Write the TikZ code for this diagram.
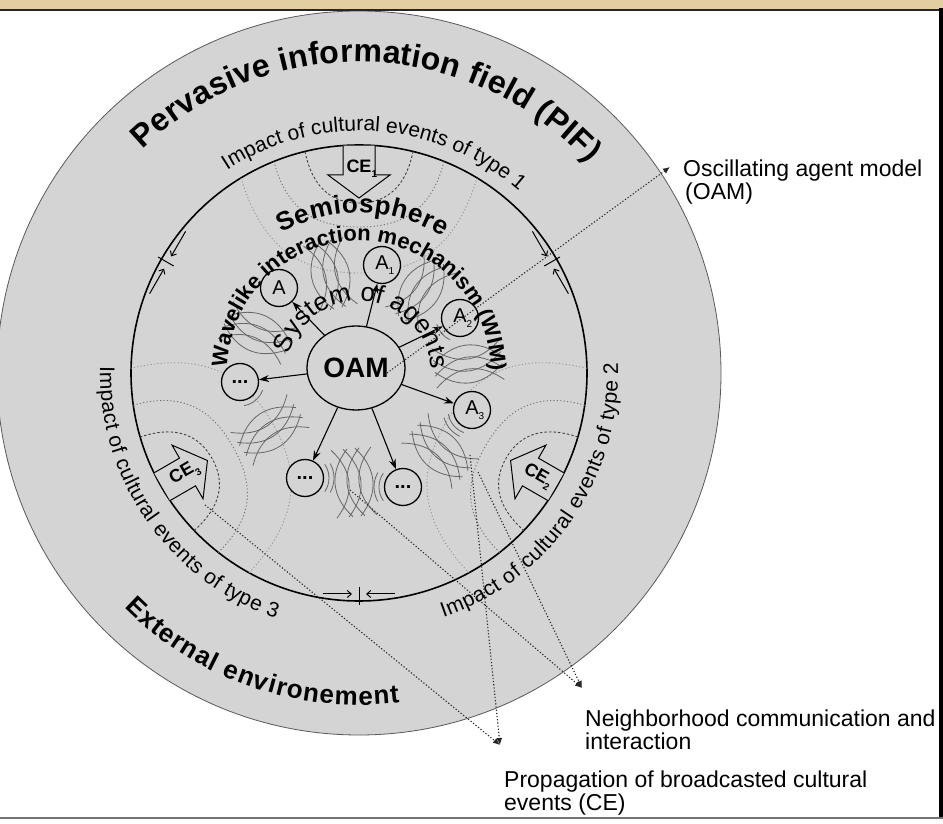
\documentclass[tikz,border=0pt]{standalone}
\usepackage{fontspec}
\setmainfont{Liberation Sans}
\usetikzlibrary{arrows.meta,calc,decorations.text,shapes.geometric}

\definecolor{fieldgray}{RGB}{212,212,212}
\definecolor{stripbeige}{RGB}{226,206,160}

% small index under the agent / event letters
\newcommand\lowidx[1]{\rlap{\raisebox{-5pt}{\fontsize{10}{10}\selectfont #1}}}
% fonts for the curved titles
\newcommand\pifieldfont{\bfseries\fontsize{32}{32}\selectfont}
\newcommand\envirofont{\bfseries\fontsize{26}{26}\selectfont}
\newcommand\semiofont{\bfseries\fontsize{26}{26}\selectfont}
\newcommand\wimfont{\bfseries\fontsize{22}{22}\selectfont}
\newcommand\systemfont{\fontsize{26}{26}\selectfont}
\newcommand\impactfont{\fontsize{21}{21}\selectfont}

% crossing wave lines between two neighbouring agents
\newcommand\wavegroup[3]{%
  \begin{scope}[shift={(#1,#2)}, rotate=#3]
    \foreach \k in {-14,-2,10} {
      \draw[wave] (\k-6,-34) .. controls (\k+14,-12) and (\k+14,12) .. (\k-6,34);
      \draw[wave] (\k+10,-34) .. controls (\k-10,-12) and (\k-10,12) .. (\k+10,34);
    }
  \end{scope}}

% wave fronts spreading from a cultural event
\newcommand\cefield[1]{%
  \begin{scope}[shift={(C)}, rotate=#1-90]
    \draw[frontline, draw=black!40] (-118,195) .. controls (-95,118) and (-50,100) .. (0,100) .. controls (50,100) and (95,118) .. (118,195);
    \draw[frontline] (-85,211.6) .. controls (-72,160) and (-40,146) .. (0,146) .. controls (40,146) and (72,160) .. (85,211.6);
    \draw[capline] (-54,221.5) .. controls (-46,182) and (-24,170) .. (0,170) .. controls (24,170) and (46,182) .. (54,221.5);
  \end{scope}}

% broadcast arrow of a cultural event
\newcommand\cearrow[4]{%
  \begin{scope}[shift={(C)}, rotate=#1-90]
    \draw[cebody] (-16,227.4) -- (-16,198) -- (-31,198) -- (0,175) -- (31,198) -- (16,198) -- (16,227.4);
  \end{scope}
  \node[celabel, rotate=#4] (#2) at ($(C)+(#1:204)$) {CE\lowidx{#3}};}

% separation mark on the semiosphere border
\newcommand\boundarytick[1]{%
  \begin{scope}[shift={(C)}, rotate=#1-90]
    \draw[line width=1pt] (0,214) -- (0,232);
    \draw[tickarrow] (-36,221) -- (-7,221);
    \draw[tickarrow] (36,221) -- (7,221);
  \end{scope}}

\begin{document}
\begin{tikzpicture}[x=1pt, y=1pt,
    field/.style={fill=fieldgray, draw=black!65, line width=0.8pt},
    agent/.style={circle, draw, line width=1.3pt, fill=fieldgray, minimum size=37pt, inner sep=0pt, font=\fontsize{20}{20}\selectfont},
    oamnode/.style={ellipse, draw, line width=1.3pt, fill=fieldgray, minimum width=98pt, minimum height=84pt, inner sep=0pt, font=\bfseries\fontsize{28}{28}\selectfont},
    spoke/.style={-{Stealth[length=10pt,width=7pt]}, line width=1.1pt},
    wave/.style={draw=black!60, line width=0.8pt},
    cebody/.style={draw, line width=1pt, fill=fieldgray, line join=miter},
    celabel/.style={inner sep=0pt, font=\bfseries\fontsize{18}{18}\selectfont},
    capline/.style={draw=black!75, dash pattern=on 2.5pt off 2pt, line width=0.9pt},
    frontline/.style={draw=black!55, dash pattern=on 1.2pt off 2.2pt, line width=0.9pt},
    pointer/.style={draw=black!85, dash pattern=on 1.2pt off 2pt, line width=1.1pt, -{Latex[length=7pt,width=6pt]}},
    note/.style={anchor=north west, inner sep=0pt, align=left, font=\fontsize{23}{23}\selectfont},
    tickarrow/.style={-{Straight Barb[length=4pt,width=7pt]}, line width=1pt},
    arctext/.style={decorate, decoration={text along path, text align={fit to path}, text={#1}}}
]
\useasboundingbox (0,0) rectangle (943,823);
\fill[white] (0,0) rectangle (943,823);
\fill[stripbeige] (0,814) rectangle (943,823);
\coordinate (C) at (359,450);

% information field and semiosphere
\draw[field] (C) circle[radius=362];
\draw[line width=1.6pt, fill=fieldgray] (C) circle[radius=228];

\cefield{90}
\cefield{-30}
\cefield{210}

% interaction waves
\wavegroup{257}{490}{67.5}
\wavegroup{330.5}{548}{12.6}
\wavegroup{421}{533}{-34}
\wavegroup{468}{459}{97.4}
\wavegroup{440}{372}{48}
\wavegroup{354}{340.5}{5}
\wavegroup{270}{393}{-56}

\cearrow{90}{ce1}{1}{0}
\cearrow{-30}{ce2}{2}{-30}
\cearrow{210}{ce3}{3}{30}

\foreach \t in {150,30,270} {\boundarytick{\t}}

% oscillating agent model and its agents
\node[oamnode] (oam) at (356,455) {OAM};
\node[agent] (a0) at (279,535) {A};
\node[agent] (a1) at (382,558) {A\lowidx{1}};
\node[agent] (a2) at (460,505) {A\lowidx{2}};
\node[agent] (a3) at (472,413) {A\lowidx{3}};
\node[agent] (d1) at (240,441) {\textbf{...}};
\node[agent] (d2) at (305,345) {\textbf{...}};
\node[agent] (d3) at (403,336) {\textbf{...}};

\foreach \n in {a0,a1,a2,a3,d1,d2,d3}
  \draw[spoke] (oam) -- (\n);

% emission arcs
\draw[wave] ($(a3)+(190:24)$) arc[start angle=190, end angle=250, radius=24];
\draw[wave] ($(a3)+(195:29)$) arc[start angle=195, end angle=245, radius=29];
\draw[wave] ($(d2)+(-35:24)$) arc[start angle=-35, end angle=35, radius=24];
\draw[wave] ($(d2)+(-30:29)$) arc[start angle=-30, end angle=30, radius=29];
\draw[wave] ($(d3)+(145:24)$) arc[start angle=145, end angle=215, radius=24];
\draw[wave] ($(d3)+(150:29)$) arc[start angle=150, end angle=210, radius=29];
\draw[wave] ($(d1)+(-80:24)$) arc[start angle=-80, end angle=-20, radius=24];
\draw[wave] ($(a2)+(195:24)$) arc[start angle=195, end angle=245, radius=24];

% curved titles
\path[arctext={|\pifieldfont|Pervasive information field (PIF) }] ($(C)+(134:311)$) arc[start angle=134, end angle=42.5, radius=311];
\path[arctext={|\envirofont|External environement }] ($(C)+(225:332)$) arc[start angle=225, end angle=277, radius=332];
\path[arctext={|\impactfont|Impact of cultural events of type 1 }] ($(C)+(123:242)$) arc[start angle=123, end angle=49.5, radius=242];
\path[arctext={|\impactfont|Impact of cultural events of type 2 }] ($(C)+(-71:259)$) arc[start angle=-71, end angle=2.3, radius=259];
\path[arctext={|\impactfont|Impact of cultural events of type 3 }] ($(C)+(178.5:259)$) arc[start angle=178.5, end angle=251.3, radius=259];
\path[arctext={|\semiofont|Semiosphere }] ($(C)+(119:160)$) arc[start angle=119, end angle=58.5, radius=160];
\path[arctext={|\wimfont|Wavelike interaction mechanism (WIM) }] ($(C)+(177.5:132)$) arc[start angle=177.5, end angle=1, radius=132];
\path[arctext={|\systemfont|System of agents }] ($(C)+(165:72)$) arc[start angle=165, end angle=3, radius=72];

% callouts
\node[note] (oamnote) at (683,663) {Oscillating agent model\\\hspace*{2pt}(OAM)};
\node[note] (nbnote) at (585,113) {Neighborhood communication and\\interaction};
\node[note] (prnote) at (504,52) {Propagation of broadcasted cultural\\events (CE)};
\coordinate (oamdot) at (387,450);
\coordinate (oamtip) at (670,656);
\coordinate (nbsrc1) at (350,333);
\coordinate (nbsrc2) at (478,351);
\coordinate (nbtip) at (582,135);
\coordinate (prsrc1) at (205,318);
\coordinate (prsrc2) at (470,368);
\coordinate (prtip) at (500,78);
\draw[pointer] (oamdot) -- (oamtip);
\draw[pointer] (nbsrc1) -- (nbtip);
\draw[pointer] (nbsrc2) -- (nbtip);
\draw[pointer] (prsrc1) -- (prtip);
\draw[pointer] (prsrc2) -- (prtip);

% frame
\draw[line width=2pt, black!85] (0,813) -- (941,813);
\draw[line width=4pt] (941,815) -- (941,4);
\draw[line width=1.8pt, black!55] (0,5) -- (943,5);
\end{tikzpicture}
\end{document}
